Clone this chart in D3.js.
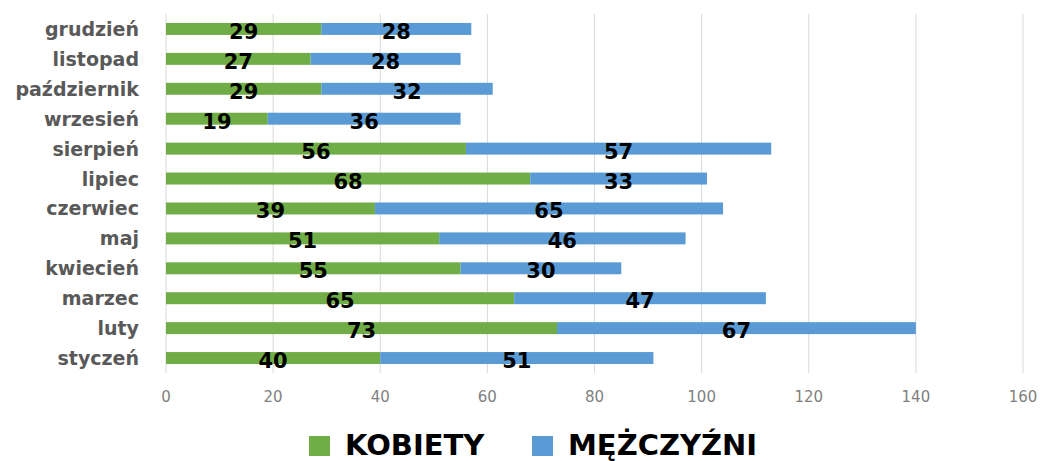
<!DOCTYPE html>
<html>
<head>
<meta charset="utf-8">
<script src="https://cdn.jsdelivr.net/npm/d3@7"></script>
<style>
  body { margin: 0; background: #fff; }
</style>
</head>
<body>
<script>
// Data
const months = ["styczeń", "luty", "marzec", "kwiecień", "maj", "czerwiec",
                "lipiec", "sierpień", "wrzesień", "październik", "listopad", "grudzień"];
const kobiety = [40, 73, 65, 55, 51, 39, 68, 56, 19, 29, 27, 29];
const mezczyzni = [51, 67, 47, 30, 46, 65, 33, 57, 36, 32, 28, 28];
const seriesNames = ["KOBIETY", "MĘŻCZYŹNI"];
const colors = ["#70ad47", "#5b9bd5"];
const xTicks = [0, 20, 40, 60, 80, 100, 120, 140, 160];

// Set up dimensions
const W = 1041, H = 461;
const margin = { top: 14, right: 18, bottom: 88, left: 166 };
const width = W - margin.left - margin.right;
const height = H - margin.top - margin.bottom;

const svg = d3.select("body")
              .append("svg")
              .attr("width", W)
              .attr("height", H);

const g = svg.append("g")
             .attr("transform", `translate(${margin.left},${margin.top})`);

const data = months.map((m, i) => ({ month: m, k: kobiety[i], m2: mezczyzni[i] }));

// Scales
const xScale = d3.scaleLinear().domain([0, 160]).range([0, width]);
const yScale = d3.scaleBand()
                 .domain(months.slice().reverse())
                 .range([0, height])
                 .paddingInner(0.6)
                 .paddingOuter(0.3);

// Gridlines
g.append("g")
 .selectAll("line")
 .data(xTicks)
 .join("line")
 .attr("x1", d => xScale(d))
 .attr("x2", d => xScale(d))
 .attr("y1", 0)
 .attr("y2", height)
 .attr("stroke", "#d9d9d9")
 .attr("stroke-width", 1);

// Stacked bars
const stack = d3.stack().keys(["k", "m2"]);
const stacked = stack(data);

stacked.forEach((layer, li) => {
  g.append("g")
   .selectAll("rect")
   .data(layer)
   .join("rect")
   .attr("x", d => xScale(d[0]))
   .attr("y", d => yScale(d.data.month))
   .attr("width", d => xScale(d[1]) - xScale(d[0]))
   .attr("height", yScale.bandwidth())
   .attr("fill", colors[li]);
});

// Data labels
stacked.forEach(layer => {
  g.append("g")
   .selectAll("text")
   .data(layer)
   .join("text")
   .attr("x", d => xScale((d[0] + d[1]) / 2))
   .attr("y", d => yScale(d.data.month) + yScale.bandwidth() / 2 + 3)
   .attr("text-anchor", "middle")
   .attr("dominant-baseline", "central")
   .style("font-family", "'DejaVu Sans', sans-serif")
   .style("font-weight", "bold")
   .style("font-size", "21px")
   .style("fill", "#000")
   .text(d => d[1] - d[0]);
});

// Category labels
g.append("g")
 .selectAll("text")
 .data(months)
 .join("text")
 .attr("x", -27)
 .attr("y", d => yScale(d) + yScale.bandwidth() / 2)
 .attr("text-anchor", "end")
 .attr("dominant-baseline", "central")
 .style("font-family", "'DejaVu Sans', sans-serif")
 .style("font-weight", "bold")
 .style("font-size", "19px")
 .style("fill", "#595959")
 .text(d => d);

// X axis labels
g.append("g")
 .selectAll("text")
 .data(xTicks)
 .join("text")
 .attr("x", d => xScale(d))
 .attr("y", height + 24)
 .attr("text-anchor", "middle")
 .attr("dominant-baseline", "central")
 .style("font-family", "'DejaVu Sans', sans-serif")
 .style("font-size", "15px")
 .style("fill", "#7f7f7f")
 .text(d => d);

// Legend
const legendX = [309, 532];
const legend = svg.append("g");
seriesNames.forEach((name, i) => {
  legend.append("rect")
        .attr("x", legendX[i])
        .attr("y", 436)
        .attr("width", 21)
        .attr("height", 20)
        .attr("fill", colors[i]);
  legend.append("text")
        .attr("x", legendX[i] + 36)
        .attr("y", 455)
        .style("font-family", "'DejaVu Sans', sans-serif")
        .style("font-weight", "bold")
        .style("font-size", "29px")
        .style("fill", "#000")
        .text(name);
});
</script>
</body>
</html>
